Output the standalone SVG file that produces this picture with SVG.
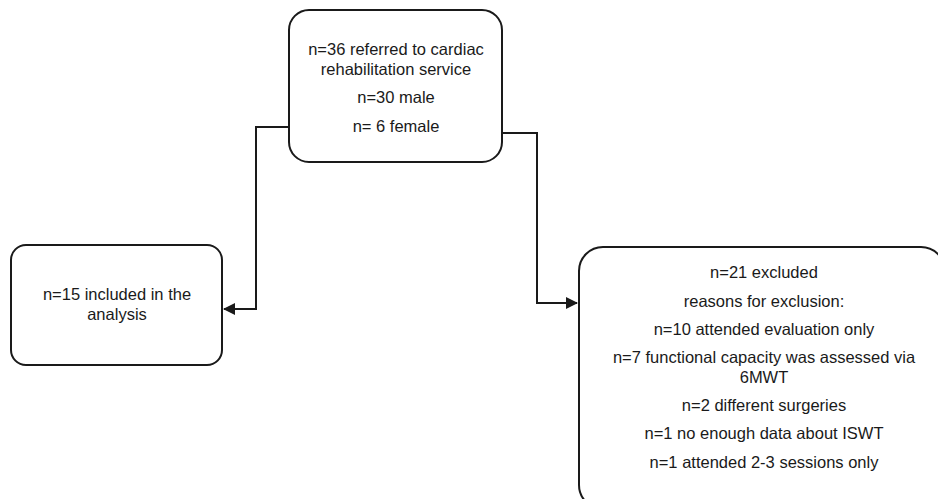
<svg xmlns="http://www.w3.org/2000/svg" width="938" height="499" viewBox="0 0 938 499">
<style>
.box{fill:#fff;stroke:#1a1a1a;stroke-width:2}
.t{font-family:"Liberation Sans",Arial,sans-serif;font-size:16.5px;fill:#1a1a1a;text-anchor:middle}
.c{fill:none;stroke:#1a1a1a;stroke-width:2}
</style>
<defs>
<marker id="arr" viewBox="0 0 12 12" refX="11" refY="6" markerWidth="12" markerHeight="12" markerUnits="userSpaceOnUse" orient="auto">
<path d="M0,0 L12,6 L0,12 Z" fill="#1a1a1a"/>
</marker>
</defs>
<rect width="938" height="499" fill="#fff"/>
<g id="connectors">
<path class="c" d="M289,127 H256 V309 H224" marker-end="url(#arr)"/>
<path class="c" d="M501,133 H537 V303 H577" marker-end="url(#arr)"/>
</g>
<g id="referred">
<rect class="box" x="289" y="10" width="213" height="152" rx="20"/>
<text class="t" x="396" y="55">n=36 referred to cardiac<tspan x="396" dy="19.5">rehabilitation service</tspan></text>
<text class="t" x="396" y="103">n=30 male</text>
<text class="t" x="396" y="132">n= 6 female</text>
</g>
<g id="included">
<rect class="box" x="11" y="245" width="211" height="120" rx="15"/>
<text class="t" x="117" y="300">n=15 included in the<tspan x="117" dy="20">analysis</tspan></text>
</g>
<g id="excluded">
<rect class="box" x="579" y="247" width="366" height="262" rx="24"/>
<text class="t" x="764" y="278">n=21 excluded</text>
<text class="t" x="764" y="307">reasons for exclusion:</text>
<text class="t" x="764" y="335">n=10 attended evaluation only</text>
<text class="t" x="764" y="363">n=7 functional capacity was assessed via<tspan x="764" dy="20">6MWT</tspan></text>
<text class="t" x="764" y="411">n=2 different surgeries</text>
<text class="t" x="764" y="439">n=1 no enough data about ISWT</text>
<text class="t" x="764" y="468">n=1 attended 2-3 sessions only</text>
</g>
</svg>
